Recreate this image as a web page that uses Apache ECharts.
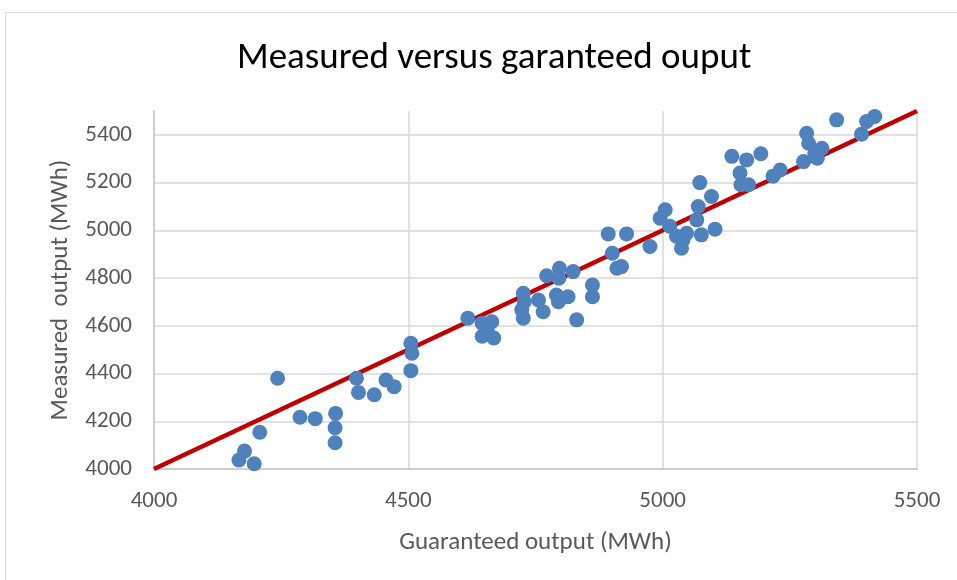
<!DOCTYPE html>
<html>
<head>
<meta charset="utf-8">
<script src="https://cdn.jsdelivr.net/npm/echarts@6/dist/echarts.min.js"></script>
<style>
  html, body { margin: 0; padding: 0; background: #fff; }
  #chart { width: 957px; height: 580px; }
</style>
</head>
<body>
<div id="chart"></div>
<script>
// guaranteed output (x) and measured output (y), MWh
const guaranteed = [
  4167, 4178, 4197, 4208, 4243, 4287, 4317, 4357, 4356, 4356,
  4398, 4402, 4433, 4456, 4472, 4505, 4507, 4505,
  4617, 4645, 4664, 4645, 4668, 4655,
  4726, 4728, 4756, 4723, 4726, 4765, 4791, 4795, 4814, 4831,
  4862, 4862, 4772, 4797, 4796, 4824,
  4893, 4929, 4901, 4910, 4919, 4975, 4995, 5005, 5014, 5027,
  5047, 5037, 5040, 5067, 5070, 5096, 5076, 5103, 5073,
  5136, 5165, 5193, 5152, 5154, 5169, 5217, 5231, 5277, 5287,
  5283, 5304, 5313, 5299, 5342, 5391, 5401, 5417
]
const measured = [
  4038, 4075, 4022, 4154, 4380, 4217, 4211, 4233, 4173, 4110,
  4380, 4321, 4311, 4373, 4345, 4527, 4485, 4412,
  4632, 4611, 4617, 4556, 4549, 4580,
  4736, 4701, 4708, 4667, 4632, 4659, 4729, 4701, 4722, 4625,
  4771, 4722, 4810, 4841, 4799, 4827,
  4985, 4985, 4904, 4841, 4848, 4932, 5051, 5086, 5017, 4975,
  4988, 4925, 4960, 5044, 5100, 5142, 4981, 5005, 5200,
  5310, 5295, 5321, 5240, 5191, 5191, 5227, 5253, 5288, 5365,
  5407, 5302, 5344, 5323, 5463, 5403, 5456, 5477
]
// reference line: measured = guaranteed
const refX = [4000, 5500]
const refY = [4000, 5500]

const font = 'Carlito, "Liberation Sans Narrow", sans-serif'
const textGray = '#595959'
const gridGray = '#d9d9d9'

const chart = echarts.init(document.getElementById('chart'))

chart.setOption({
  animation: false,
  textStyle: { fontFamily: font },
  title: {
    text: 'Measured versus garanteed ouput',
    left: 232,
    top: 35,
    textStyle: { fontFamily: font, fontSize: 37, fontWeight: 'normal', color: '#000' }
  },
  graphic: [{
    type: 'rect',
    shape: { x: 5.5, y: 12.5, width: 1000, height: 1000 },
    style: { fill: 'none', stroke: gridGray, lineWidth: 1 },
    silent: true
  }],
  grid: { left: 154, right: 40, top: 111, bottom: 111 },
  xAxis: {
    type: 'value',
    min: 4000,
    max: 5500,
    interval: 500,
    name: 'Guaranteed output (MWh)',
    nameLocation: 'middle',
    nameGap: 61,
    nameTextStyle: { fontFamily: font, fontSize: 25, color: textGray },
    axisLine: { lineStyle: { color: '#bfbfbf', width: 1.5 } },
    axisTick: { show: false },
    axisLabel: { fontFamily: font, fontSize: 23, color: textGray, margin: 21, formatter: v => String(v) },
    splitLine: { show: true, showMinLine: false, lineStyle: { color: gridGray, width: 1.5 } }
  },
  yAxis: {
    type: 'value',
    min: 4000,
    max: 5500,
    interval: 200,
    name: 'Measured  output (MWh)',
    nameLocation: 'middle',
    nameGap: 81,
    nameTextStyle: { fontFamily: font, fontSize: 25, color: textGray },
    axisLine: { show: true, lineStyle: { color: '#bfbfbf', width: 1.5 } },
    axisTick: { show: false },
    axisLabel: { fontFamily: font, fontSize: 23, color: textGray, margin: 22, showMaxLabel: false, formatter: v => String(v) },
    splitLine: { show: true, showMinLine: false, showMaxLine: false, lineStyle: { color: gridGray, width: 1.5 } }
  },
  series: [
    {
      type: 'line',
      data: refX.map((x, i) => [x, refY[i]]),
      symbol: 'none',
      lineStyle: { color: '#c00000', width: 4.5 },
      z: 2
    },
    {
      type: 'scatter',
      data: guaranteed.map((x, i) => [x, measured[i]]),
      symbolSize: 15,
      itemStyle: { color: '#4f81bd', opacity: 1 },
      z: 3
    }
  ]
})
</script>
</body>
</html>
